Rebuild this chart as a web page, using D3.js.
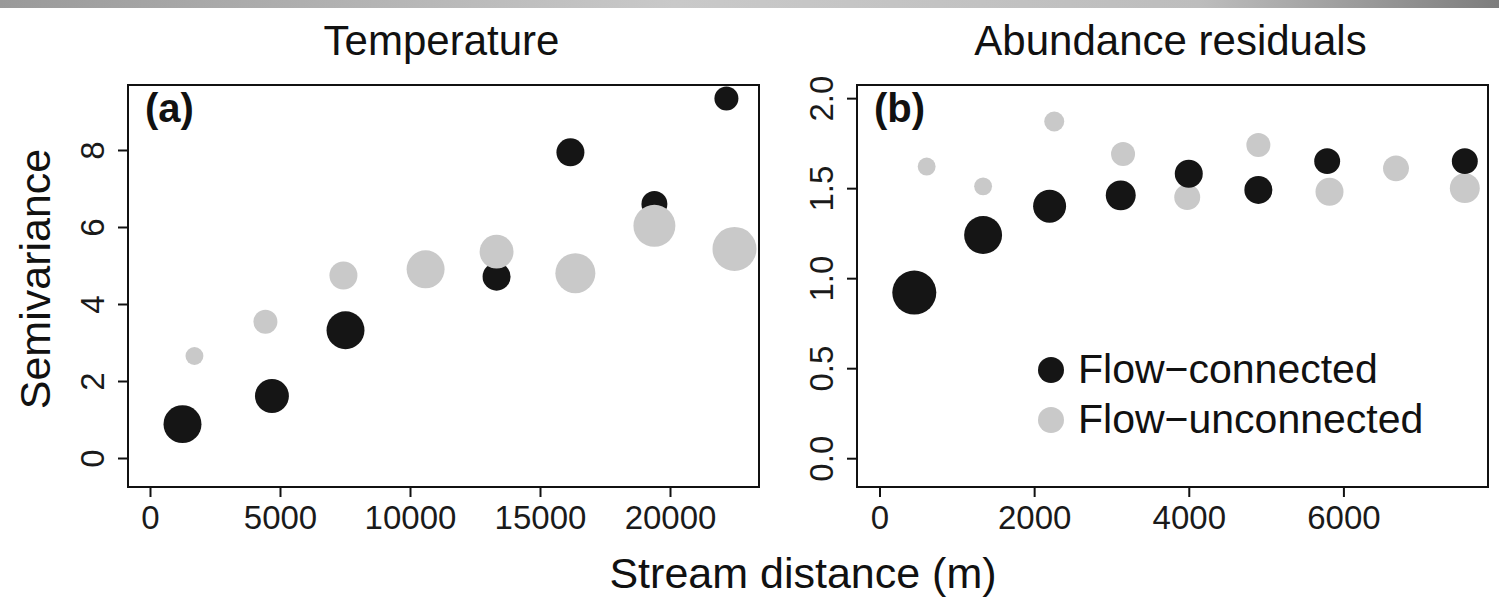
<!DOCTYPE html>
<html>
<head>
<meta charset="utf-8">
<script src="https://cdn.jsdelivr.net/npm/d3@7"></script>
<style>
  body { margin: 0; background: #fff; }
  svg { display: block; font-family: "Liberation Sans", Arial, Helvetica, sans-serif; }
</style>
</head>
<body>
<svg id="chart" width="1499" height="601"></svg>
<script>
// (a) Temperature
const tempConnDist = [1250, 4690, 7520, 13330, 16170, 19400, 22170];
const tempConnSemi = [0.88, 1.61, 3.32, 4.71, 7.94, 6.60, 9.34];
const tempConnPairs = [90, 72, 90, 49, 49, 42, 36];
const tempUnconnDist = [1710, 4440, 7440, 10600, 13330, 16360, 19400, 22480];
const tempUnconnSemi = [2.65, 3.54, 4.74, 4.90, 5.36, 4.80, 6.03, 5.43];
const tempUnconnPairs = [20, 36, 49, 90, 72, 100, 110, 121];

// (b) Abundance residuals
const abunConnDist = [450, 1340, 2200, 3120, 4000, 4900, 5790, 7570];
const abunConnSemi = [0.92, 1.24, 1.40, 1.46, 1.58, 1.49, 1.65, 1.65];
const abunConnPairs = [121, 90, 68, 56, 49, 49, 42, 42];
const abunUnconnDist = [610, 1340, 2260, 3150, 3980, 4900, 5820, 6680, 7570];
const abunUnconnSemi = [1.62, 1.51, 1.87, 1.69, 1.45, 1.74, 1.48, 1.61, 1.50];
const abunUnconnPairs = [20, 20, 25, 36, 42, 36, 49, 42, 56];

const tempXTicks = [0, 5000, 10000, 15000, 20000];
const tempYTicks = [0, 2, 4, 6, 8];
const abunXTicks = [0, 2000, 4000, 6000];
const abunYTicks = [0, 0.5, 1.0, 1.5, 2.0];

const legendLabels = ["Flow\u2212connected", "Flow\u2212unconnected"];
const colConn = "#151515";
const colUnconn = "#c9c9c9";

const svg = d3.select("#chart");

// gray scan band at the top
const grad = svg.append("defs").append("linearGradient").attr("id", "band");
grad.append("stop").attr("offset", "0%").attr("stop-color", "#9a9a9a");
grad.append("stop").attr("offset", "45%").attr("stop-color", "#c9c9c9");
grad.append("stop").attr("offset", "80%").attr("stop-color", "#bdbdbd");
grad.append("stop").attr("offset", "100%").attr("stop-color", "#7d7d7d");
svg.append("rect").attr("x", 0).attr("y", 0).attr("width", 1499).attr("height", 8)
  .attr("fill", "url(#band)");

const rScale = d3.scaleSqrt().domain([0, 121]).range([0, 22]);

function panel(opts) {
  const x = d3.scaleLinear().domain(opts.xDomain).range([opts.left, opts.right]);
  const y = d3.scaleLinear().domain(opts.yDomain).range([487, 85]);
  const g = svg.append("g");

  // points
  const series = [
    { dist: opts.connDist, semi: opts.connSemi, pairs: opts.connPairs, col: colConn },
    { dist: opts.unDist, semi: opts.unSemi, pairs: opts.unPairs, col: colUnconn }
  ];
  if (opts.blackOnTop) series.reverse();
  series.forEach(s => {
    g.selectAll(null)
      .data(s.dist.map((d, i) => ({ d: d, v: s.semi[i], n: s.pairs[i] })))
      .enter()
      .append("circle")
      .attr("cx", p => x(p.d))
      .attr("cy", p => y(p.v))
      .attr("r", p => rScale(p.n))
      .attr("fill", s.col);
  });

  // frame
  g.append("rect")
    .attr("x", opts.left).attr("y", 85)
    .attr("width", opts.right - opts.left).attr("height", 402)
    .attr("fill", "none").attr("stroke", "#111").attr("stroke-width", 2);

  // x axis
  const xa = g.append("g").attr("transform", "translate(0,487)")
    .call(d3.axisBottom(x).tickValues(opts.xTicks).tickSize(10).tickPadding(9).tickFormat(d3.format("d")));
  xa.select(".domain").remove();
  xa.selectAll("line").attr("stroke", "#111").attr("stroke-width", 2);
  xa.selectAll("text").attr("font-size", 33).attr("fill", "#1a1a1a").attr("dy", "0.71em");

  // y axis, labels parallel to axis
  const ya = g.append("g").attr("transform", `translate(${opts.left},0)`)
    .call(d3.axisLeft(y).tickValues(opts.yTicks).tickSize(10).tickFormat(opts.yFormat));
  ya.select(".domain").remove();
  ya.selectAll("line").attr("stroke", "#111").attr("stroke-width", 2);
  ya.selectAll("text")
    .attr("font-size", 33).attr("fill", "#1a1a1a")
    .attr("transform", "rotate(-90)")
    .attr("text-anchor", "middle")
    .attr("x", 0).attr("y", -24).attr("dy", 0);

  // title
  g.append("text")
    .attr("x", (opts.left + opts.right) / 2 - 2).attr("y", 55)
    .attr("text-anchor", "middle").attr("font-size", 42).attr("fill", "#111")
    .text(opts.title);

  // panel letter
  g.append("text")
    .attr("x", opts.left + 17).attr("y", 122)
    .attr("font-size", 40).attr("font-weight", "bold").attr("fill", "#111")
    .text(opts.tag);

  return { x, y, g };
}

panel({
  left: 128, right: 759,
  xDomain: [-846, 23423], yDomain: [-0.753, 9.688],
  connDist: tempConnDist, connSemi: tempConnSemi, connPairs: tempConnPairs,
  unDist: tempUnconnDist, unSemi: tempUnconnSemi, unPairs: tempUnconnPairs,
  xTicks: tempXTicks, yTicks: tempYTicks, yFormat: d3.format("d"),
  title: "Temperature", tag: "(a)", blackOnTop: false
});

const pb = panel({
  left: 857, right: 1488,
  xDomain: [-291, 7870], yDomain: [-0.160, 2.073],
  connDist: abunConnDist, connSemi: abunConnSemi, connPairs: abunConnPairs,
  unDist: abunUnconnDist, unSemi: abunUnconnSemi, unPairs: abunUnconnPairs,
  xTicks: abunXTicks, yTicks: abunYTicks, yFormat: d3.format(".1f"),
  title: "Abundance residuals", tag: "(b)", blackOnTop: true
});

// legend
const leg = pb.g.append("g").attr("transform", "translate(1051,370)");
[colConn, colUnconn].forEach((c, i) => {
  leg.append("circle").attr("cx", 0).attr("cy", i * 50).attr("r", 13).attr("fill", c);
  leg.append("text").attr("x", 27).attr("y", i * 50 + 13)
    .attr("font-size", 41).attr("fill", "#111").text(legendLabels[i]);
});

// axis titles
svg.append("text")
  .attr("x", 803).attr("y", 588)
  .attr("text-anchor", "middle").attr("font-size", 43).attr("fill", "#111")
  .text("Stream distance (m)");

svg.append("text")
  .attr("transform", "translate(50,279) rotate(-90)")
  .attr("text-anchor", "middle").attr("font-size", 43).attr("fill", "#111")
  .text("Semivariance");
</script>
</body>
</html>
